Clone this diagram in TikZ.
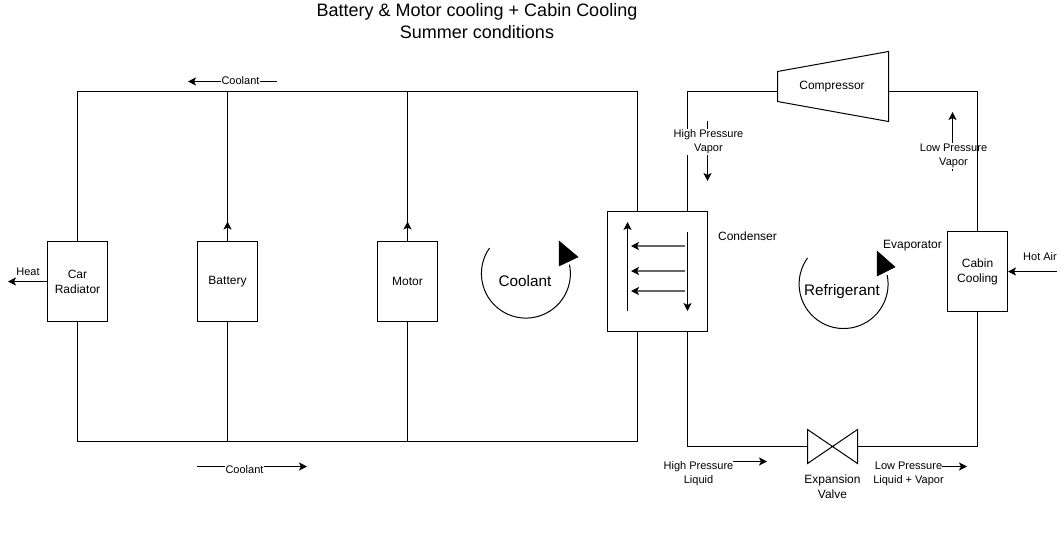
\documentclass[tikz,border=0pt]{standalone}
\usepackage{fontspec}
\setmainfont{Liberation Sans}
\usetikzlibrary{arrows.meta}
\tikzset{
  x=1pt,y=-1pt,
  line/.style={draw=black,line width=1pt,line join=miter},
  flow/.style={line,-{Stealth[length=8pt,width=8pt,inset=2pt]}},
  inner/.style={draw=black!60,line width=1.3pt,-{Stealth[length=8pt,width=8pt,inset=2pt,color=black]}},
  box/.style={draw=black,line width=1pt,minimum width=60pt,minimum height=80pt,inner sep=0pt,align=center,font=\fontsize{12}{15}\selectfont},
  lab/.style={inner sep=0pt,align=center,font=\fontsize{11}{14}\selectfont},
  labw/.style={lab,fill=white,inner sep=1pt},
  big/.style={inner sep=0pt,align=center,font=\fontsize{15.3}{18}\selectfont},
  titletext/.style={inner sep=0pt,align=center,font=\fontsize{18}{22}\selectfont},
  circarrow/.style={draw=black,line width=1pt},
  tip/.style={fill=black,draw=black,line width=0.5pt}
}
\begin{document}
\begin{tikzpicture}
\useasboundingbox (0,0) rectangle (1064,539);
\fill[white] (0,0) rectangle (1064,539);

\node[titletext] (title) at (477,21) {Battery \& Motor cooling + Cabin Cooling\\Summer conditions};

% boxes
\node[box] (radiator) at (77.5,281.5) {Car\\Radiator};
\node[box] (battery) at (227.5,281.5) {Battery};
\node[box] (motor) at (407.5,281.5) {Motor};
\node[box,minimum width=100pt,minimum height=120pt] (condenser) at (657.5,271.5) {};
\node[box,minimum height=80pt] (cabin) at (977.5,271.5) {Cabin\\Cooling};

% compressor
\coordinate (cw) at (777.5,91.5);
\coordinate (ce) at (888.5,91.5);
\draw[line] (777.5,71.5) -- (888.5,51.5) -- (888.5,121.5) -- (777.5,101.5) -- cycle;
\node[lab,font=\fontsize{12}{15}\selectfont] (compressor) at (832,87) {Compressor};

% valve
\coordinate (vw) at (807.5,446);
\coordinate (ve) at (857.5,446);
\draw[line] (807.5,429.5) -- (857.5,463.5) -- (857.5,429.5) -- (807.5,463.5) -- cycle;
\node[lab,font=\fontsize{12}{15}\selectfont] (valve) at (832.5,487) {Expansion\\Valve};

% coolant rails
\coordinate (tl) at (77.5,91.5);
\coordinate (tb) at (227.5,91.5);
\coordinate (tm) at (407.5,91.5);
\coordinate (tr) at (637.5,91.5);
\coordinate (bl) at (77.5,441.5);
\coordinate (bb) at (227.5,441.5);
\coordinate (bm) at (407.5,441.5);
\coordinate (br) at (637.5,441.5);
\coordinate (cnw) at (637.5,211.5);
\coordinate (csw) at (637.5,331.5);
\coordinate (cne) at (687.5,211.5);
\coordinate (cse) at (687.5,331.5);

\draw[line] (radiator.north) -- (tl) -- (tr) -- (cnw);
\draw[line] (radiator.south) -- (bl) -- (br) -- (csw);
\draw[line] (battery.south) -- (bb);
\draw[line] (motor.south) -- (bm);
\draw[line] (battery.north) -- (tb);
\draw[line] (motor.north) -- (tm);
\coordinate (ba) at (227.5,221.5);
\coordinate (ma) at (407.5,221.5);
\draw[flow] (battery.north) -- (ba);
\draw[flow] (motor.north) -- (ma);

% refrigerant loop (left and lower parts first)
\coordinate (rtl) at (687.5,91.5);
\coordinate (rtr) at (977.5,91.5);
\coordinate (rbl) at (687.5,446);
\coordinate (rbr) at (977.5,446);
\draw[line] (cne) -- (rtl) -- (cw);
\draw[line] (cse) -- (rbl) -- (vw);
\draw[line] (ve) -- (rbr) -- (cabin.south);

% free arrows
\coordinate (ct1) at (277,81.5);
\coordinate (ct2) at (188,81.5);
\coordinate (cb1) at (197,466.5);
\coordinate (cb2) at (307,466.5);
\coordinate (h1) at (radiator.west);
\coordinate (h2) at (8,281.5);
\coordinate (a1) at (1057,271.5);
\coordinate (hv1) at (707.5,121);
\coordinate (hv2) at (707.5,181);
\coordinate (lv1) at (952.5,171);
\coordinate (lv2) at (952.5,112);
\coordinate (hl1) at (733,461.5);
\coordinate (hl2) at (767,461.5);
\coordinate (ll1) at (942,466.5);
\coordinate (ll2) at (967,466.5);

\draw[flow] (ct1) -- (ct2);
\draw[flow] (cb1) -- (cb2);
\draw[flow] (h1) -- (h2);
\draw[flow] (a1) -- (cabin.east);
\draw[flow] (hv1) -- (hv2);
\draw[flow] (lv1) -- (lv2);
\draw[flow] (hl1) -- (hl2);
\draw[flow] (ll1) -- (ll2);

% labels
\node[labw] (coolanttop) at (240.5,80.5) {Coolant};
\node[labw] (coolantbot) at (244.5,469.5) {Coolant};
\node[lab] (heat) at (28,272) {Heat};
\node[lab] (hotair) at (1040,257) {Hot Air};
\node[labw] (hpv) at (708.5,142) {High Pressure\\Vapor};
\node[labw] (lpv) at (953.5,156) {Low Pressure\\Vapor};
\node[lab] (hpl) at (698.5,473.5) {High Pressure\\Liquid};
\node[lab] (lpl) at (908.5,473.5) {Low Pressure\\Liquid + Vapor};
\node[lab,font=\fontsize{12}{15}\selectfont] (condlabel) at (747.5,236) {Condenser};
\node[lab,font=\fontsize{12}{15}\selectfont] (evaplabel) at (912.5,246) {Evaporator};

% line over the low-pressure label
\draw[line] (ce) -- (rtr) -- (cabin.north);

% condenser inside
\coordinate (i1a) at (627.5,311);
\coordinate (i1b) at (627.5,222);
\coordinate (i2a) at (687.5,232);
\coordinate (i2b) at (687.5,311);
\draw[flow] (i1a) -- (i1b);
\draw[flow] (i2a) -- (i2b);
\foreach \yy/\nn in {246/a,271/b,291/c}{
  \coordinate (hs\nn) at (685,\yy);
  \coordinate (he\nn) at (631,\yy);
  \draw[inner] (hs\nn) -- (he\nn);
}

% circular arrows
\coordinate (coolc) at (526,274);
\coordinate (refc) at (843.5,284);
\draw[circarrow] (489.5,248) arc[start angle=215.1,end angle=-11.6,radius=44.5];
\draw[tip] (559,241) -- (578,257) -- (559,266) -- cycle;
\node[big] (coolantcirc) at (525,281.5) {Coolant};
\draw[circarrow] (807.5,258) arc[start angle=215.8,end angle=-11.7,radius=44.5];
\draw[tip] (877,251) -- (895,267) -- (877,276) -- cycle;
\node[big] (refcirc) at (842,291.5) {Refrigerant};
\end{tikzpicture}
\end{document}
